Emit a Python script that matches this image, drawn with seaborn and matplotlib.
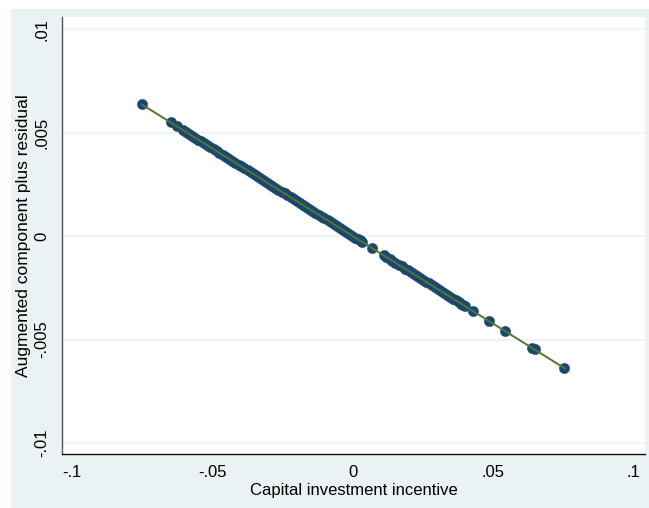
import matplotlib
matplotlib.use("Agg")
import matplotlib.pyplot as plt
import seaborn as sns
import pandas as pd
from matplotlib.patches import Rectangle

# Data
incentive = [-0.0752, -0.0649, -0.0627, -0.0606, -0.0585, -0.0561, -0.0540, -0.0519,
             -0.0494, -0.0475, -0.0451, -0.0430, -0.0407, -0.0388, -0.0363, -0.0342,
             -0.0321, -0.0297, -0.0277, -0.0253, -0.0233, -0.0209, -0.0189, -0.0165,
             -0.0145, -0.0121, -0.0101, -0.0078, -0.0057, -0.0034, -0.0013, 0.0009,
             0.0024, 0.0034, 0.0070, 0.0110, 0.0131, 0.0152, 0.0174, 0.0195, 0.0218,
             0.0239, 0.0261, 0.0282, 0.0304, 0.0326, 0.0347, 0.0368, 0.0385, 0.0399,
             0.0429, 0.0485, 0.0543, 0.0638, 0.0648, 0.0753,
             -0.0596, -0.0573, -0.0551, -0.0530, -0.0507, -0.0485, -0.0463, -0.0441,
             -0.0419, -0.0397, -0.0375, -0.0352, -0.0331, -0.0309, -0.0287, -0.0265,
             -0.0243, -0.0221, -0.0199, -0.0177, -0.0155, -0.0133, -0.0111, -0.0089,
             -0.0067, -0.0045, -0.0023, -0.0002, 0.0017, 0.0029,
             0.0120, 0.0141, 0.0163, 0.0185, 0.0206, 0.0228, 0.0250, 0.0271,
             0.0293, 0.0315, 0.0336, 0.0357, 0.0377, 0.0392]
cpr = [0.00636, 0.00549, 0.00530, 0.00513, 0.00495, 0.00475, 0.00457, 0.00439,
       0.00418, 0.00402, 0.00382, 0.00364, 0.00344, 0.00328, 0.00307, 0.00289,
       0.00272, 0.00251, 0.00234, 0.00214, 0.00197, 0.00177, 0.00160, 0.00140,
       0.00123, 0.00102, 0.00085, 0.00066, 0.00048, 0.00029, 0.00011, -0.00008,
       -0.00020, -0.00029, -0.00059, -0.00093, -0.00111, -0.00129, -0.00147, -0.00165, -0.00184,
       -0.00202, -0.00221, -0.00239, -0.00257, -0.00276, -0.00294, -0.00311, -0.00326, -0.00338,
       -0.00363, -0.00410, -0.00459, -0.00540, -0.00548, -0.00637,
       0.00504, 0.00485, 0.00466, 0.00448, 0.00429, 0.00410, 0.00392, 0.00373,
       0.00354, 0.00336, 0.00317, 0.00298, 0.00280, 0.00261, 0.00243, 0.00224,
       0.00206, 0.00187, 0.00168, 0.00150, 0.00131, 0.00113, 0.00094, 0.00075,
       0.00057, 0.00038, 0.00019, 0.00002, -0.00014, -0.00025,
       -0.00102, -0.00119, -0.00138, -0.00157, -0.00174, -0.00193, -0.00212, -0.00229,
       -0.00248, -0.00266, -0.00284, -0.00302, -0.00319, -0.00332]
fit_x = [-0.0752, 0.0756]
fit_y = [0.00636, -0.00640]

x_ticks = [-0.1, -0.05, 0, 0.05, 0.1]
x_ticklabels = ["-.1", "-.05", "0", ".05", ".1"]
y_ticks = [-0.01, -0.005, 0, 0.005, 0.01]
y_ticklabels = ["-.01", "-.005", "0", ".005", ".01"]

sns.set_theme(style="white")
plt.rcParams["font.family"] = ["Liberation Sans", "DejaVu Sans"]

W, H = 649, 508
fig = plt.figure(figsize=(W / 100, H / 100), dpi=100, facecolor="white")
bg = "#EAF2F3"
fig.patches.append(Rectangle((11 / W, 0), 1 - 11 / W, 1 - 9 / H,
                             transform=fig.transFigure, facecolor=bg,
                             edgecolor="none", zorder=-10))

ax = fig.add_axes([62 / W, 1 - 454 / H, (645 - 62) / W, (454 - 17) / H])
ax.set_zorder(1)
ax.set_facecolor("white")

df = pd.DataFrame({"x": incentive, "y": cpr})
fit = pd.DataFrame({"x": fit_x, "y": fit_y})

sns.scatterplot(data=df, x="x", y="y", ax=ax, color="#1a476f", s=55,
                edgecolor="#1a476f", linewidth=0.3, zorder=3)
sns.lineplot(data=fit, x="x", y="y", ax=ax, color="#55752F", linewidth=1.4,
             zorder=4, estimator=None, sort=False)

ax.set_xlim(-0.1036, 0.1041)
ax.set_ylim(-0.01053, 0.01058)

ax.set_xticks(x_ticks)
ax.set_xticklabels(x_ticklabels, fontsize=12)
ax.set_yticks(y_ticks)
ax.set_yticklabels(y_ticklabels, fontsize=12, rotation=90, va="center")

for yv in y_ticks:
    ax.axhline(yv, color="#EBF2F3", linewidth=1.1, zorder=1)

for s in ["top", "right"]:
    ax.spines[s].set_visible(False)
ax.spines["left"].set_color("#555555")
ax.spines["bottom"].set_color("#111111")
ax.spines["left"].set_linewidth(1.0)
ax.spines["bottom"].set_linewidth(1.0)
ax.tick_params(axis="both", direction="out", length=5, width=1.0,
               color="#777777", labelcolor="black", pad=3)
ax.tick_params(axis="y", pad=4)

ax.set_xlabel("Capital investment incentive", fontsize=12, color="black")
ax.set_ylabel("Augmented component plus residual", fontsize=12.5, color="black")
ax.xaxis.set_label_coords(0.5, -0.066)
ax.yaxis.set_label_coords(-0.053, 0.5)

fig.savefig("out.png", dpi=100, facecolor=fig.get_facecolor())
